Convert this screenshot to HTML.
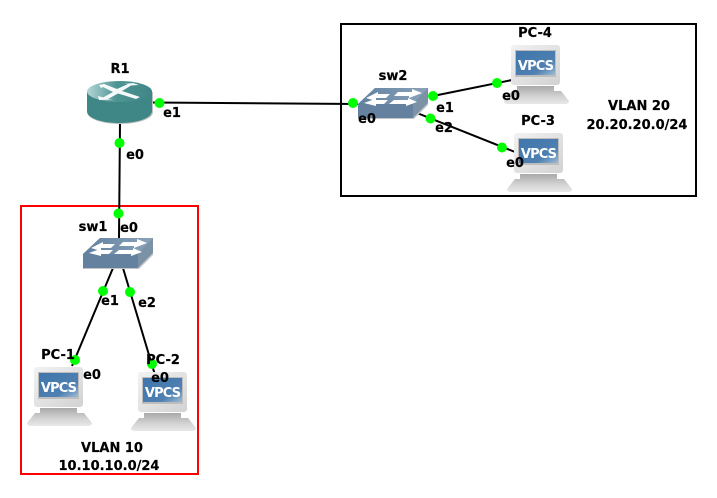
<!DOCTYPE html>
<html><head><meta charset="utf-8"><style>
html,body{margin:0;padding:0;background:#fff}
svg{display:block}
.t{font:bold 13px "DejaVu Sans",sans-serif;fill:#000;text-anchor:middle;stroke:#000;stroke-width:.2}
.v{font:bold 13px "DejaVu Sans",sans-serif;fill:#fff;text-anchor:middle;letter-spacing:-.9px}
</style></head><body>
<svg width="717" height="498" viewBox="0 0 717 498" xmlns="http://www.w3.org/2000/svg">
<defs>
<linearGradient id="m" x1="0" y1="0" x2="1" y2="1"><stop offset="0" stop-color="#f2f2f2"/><stop offset="1" stop-color="#d2d2d2"/></linearGradient>
<linearGradient id="b" x1="0" y1="0" x2="0" y2="1"><stop offset="0" stop-color="#a9a9a9"/><stop offset=".6" stop-color="#d4d4d4"/><stop offset="1" stop-color="#e8e8e8"/></linearGradient>
<linearGradient id="s" x1="0" y1="0" x2="1" y2="1"><stop offset="0" stop-color="#3f76ac"/><stop offset=".7" stop-color="#4f80b0"/><stop offset="1" stop-color="#9fbcd6"/></linearGradient>
<linearGradient id="rt" x1="0" y1="0" x2="1" y2="0"><stop offset="0" stop-color="#b4d6d6"/><stop offset=".45" stop-color="#4f9494"/><stop offset="1" stop-color="#3f8686"/></linearGradient>
<linearGradient id="swt" x1="0" y1="0" x2="1" y2="0"><stop offset="0" stop-color="#61809e"/><stop offset="1" stop-color="#8ba3ba"/></linearGradient>
<g id="pc">
<path d="M13 41H50V46H57L65 56Q65 59 61 59H4Q0 59 0 56L8 46H13Z" fill="url(#b)"/>
<rect x="7" y="0" width="49" height="40" rx="3" fill="url(#m)"/>
<rect x="11" y="5" width="41" height="27" fill="#bdbdbd"/>
<rect x="12" y="6" width="39" height="24" fill="url(#s)"/>
</g>
<g id="sw">
<path d="M0 16L17 0H70V15L55 30H0Z" fill="#6f8ca8"/>
<path d="M0 16L17 0H70L55 16Z" fill="url(#swt)"/>
<path d="M55 16L70 0V15L55 30Z" fill="#7b91a6"/>
<path d="M0 16H55V30H0Z" fill="#64829f"/>
<path d="M0 30H55L70 15V17L56 31H0Z" fill="#c4c4c4"/>
<path d="M8 10L20 4V6H32L28 10H18V13ZM40 4H54V1L64 5L51 10V8H36ZM6 15L17 11V12H30L26 16L18 16V18ZM36 12H50V10L59 14L48 18V16H31Z" fill="#fff"/>
</g>
</defs>
<rect width="717" height="498" fill="#fff"/>
<rect x="21" y="206" width="177" height="268" fill="none" stroke="#f00" stroke-width="2"/>
<rect x="341" y="24" width="355" height="172" fill="none" stroke="#000" stroke-width="2"/>
<g stroke="#000" stroke-width="2" fill="none">
<path d="M153 102.500L358 104M120 123L119 238M113 268L72 366M123 268L155 375M433 96L512 80M417 113L515 152"/>
</g>
<!-- Router -->
<path d="M87 92V112C87 119 102 124 120 124S153 119 153 112V92Z" fill="#c0c0c0"/>
<path d="M87 91V111C87 118 101 123 119.500 123S152 118 152 111V91Z" fill="#3f8686"/>
<ellipse cx="119.500" cy="91.500" rx="32.500" ry="10.500" fill="url(#rt)"/>
<path d="M99 85L104 84L117 89L128 84L124 84L133 83L139 85L131 85.500L122 91L140 97L136 99L118 93.500L108 99L113 99.500L99 100L98 96L103 97.500L113 92L103 87L101 88Z" fill="#fff" opacity=".95"/>
<!-- switches -->
<use href="#sw" x="83" y="238"/>
<use href="#sw" x="358" y="88"/>
<!-- PCs -->
<use href="#pc" x="27" y="367"/><text class="v" x="58.500" y="392">VPCS</text>
<use href="#pc" x="131" y="372"/><text class="v" x="162.500" y="397">VPCS</text>
<use href="#pc" x="504" y="45"/><text class="v" x="535.500" y="70">VPCS</text>
<use href="#pc" x="507" y="133"/><text class="v" x="538.500" y="158">VPCS</text>
<!-- connection points -->
<g fill="#0f0">
<circle cx="159.500" cy="103" r="5"/><circle cx="119.500" cy="143" r="5"/>
<circle cx="118.500" cy="213.500" r="5"/><circle cx="103" cy="291" r="5"/>
<circle cx="130" cy="292" r="5"/><circle cx="75" cy="360" r="5"/>
<circle cx="152" cy="364" r="5"/><circle cx="353" cy="103" r="5"/>
<circle cx="433" cy="96" r="5"/><circle cx="430.500" cy="118.500" r="5"/>
<circle cx="497" cy="83" r="5"/><circle cx="502" cy="147.500" r="5"/>
</g>
<!-- labels -->
<g>
<text class="t" x="120" y="73">R1</text>
<text class="t" x="172" y="117">e1</text>
<text class="t" x="135" y="159">e0</text>
<text class="t" x="93" y="231">sw1</text>
<text class="t" x="129" y="232">e0</text>
<text class="t" x="110" y="305">e1</text>
<text class="t" x="147" y="307">e2</text>
<text class="t" x="58" y="359">PC-1</text>
<text class="t" x="92" y="379">e0</text>
<text class="t" x="163" y="364">PC-2</text>
<text class="t" x="160" y="382">e0</text>
<text class="t" x="112" y="452">VLAN 10</text>
<text class="t" x="109" y="470">10.10.10.0/24</text>
<text class="t" x="393" y="80">sw2</text>
<text class="t" x="535" y="37">PC-4</text>
<text class="t" x="538" y="125">PC-3</text>
<text class="t" x="367" y="123">e0</text>
<text class="t" x="445" y="112">e1</text>
<text class="t" x="444" y="132">e2</text>
<text class="t" x="511" y="100">e0</text>
<text class="t" x="515" y="167">e0</text>
<text class="t" x="639" y="110">VLAN 20</text>
<text class="t" x="637" y="129">20.20.20.0/24</text>
</g>
</svg>
</body></html>
